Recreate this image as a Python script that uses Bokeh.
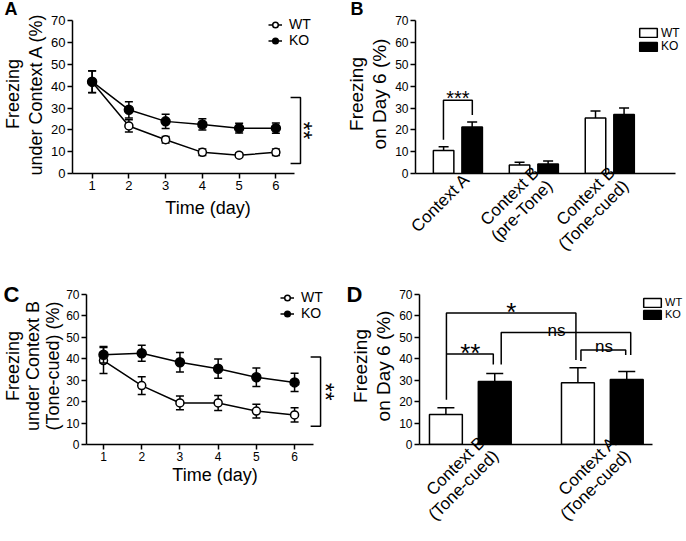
import math
from bokeh.plotting import figure
from bokeh.models import Range1d, Legend, LegendItem, FixedTicker
from bokeh.layouts import row, column
from bokeh.embed import file_html
from bokeh.resources import INLINE
from bokeh.core.properties import value

FONT = "Liberation Sans"

# ---------------- data ----------------
days = [1, 2, 3, 4, 5, 6]
y_ticks = [0, 10, 20, 30, 40, 50, 60, 70]

# Panel A: freezing under Context A
a_wt = [42.0, 21.8, 15.5, 9.7, 8.4, 9.7]
a_wt_err = [5.0, 2.8, 1.5, 1.5, 1.0, 1.5]
a_ko = [42.1, 29.2, 23.9, 22.5, 20.8, 20.8]
a_ko_err = [5.0, 3.7, 3.3, 2.6, 2.2, 2.3]

# Panel C: freezing under Context B (tone-cued)
c_wt = [39.2, 27.5, 19.4, 19.4, 15.6, 13.8]
c_wt_err = [6.1, 4.1, 3.2, 3.5, 3.2, 3.3]
c_ko = [41.9, 42.6, 38.4, 35.4, 31.4, 29.0]
c_ko_err = [3.8, 3.7, 4.6, 4.5, 4.3, 4.3]

# Panel B: freezing on day 6
b_categories = ["Context A", "Context B\n(pre-Tone)", "Context B\n(Tone-cued)"]
b_wt = [10.5, 3.9, 25.4]
b_wt_err = [1.8, 1.3, 3.3]
b_ko = [21.3, 4.3, 27.0]
b_ko_err = [2.3, 1.4, 3.0]

# Panel D: freezing on day 6
d_categories = ["Context B\n(Tone-cued)", "Context A\n(Tone-cued)"]
d_wt = [14.0, 28.8]
d_wt_err = [3.2, 7.0]
d_ko = [29.4, 30.4]
d_ko_err = [3.8, 3.7]

# significance annotations
a_sig = dict(x=6.67, tick=0.27, y0=4.6, y1=34.8, label="**", tx=6.73)
c_sig = dict(x=6.68, tick=0.26, y0=8.5, y1=40.8, label="**", tx=6.79)
# (x0, x1, top, foot0, foot1, label, text_x, text_y, font)
b_sig = [(-0.19, 0.19, 33.6, 15.5, 26.8, "***", 0.0, 34.4, "20px")]
d_sig = [(-0.181, 0.80, 61.4, 20.9, 39.5, "*", 0.31, 61.9, "26px"),
         (-0.181, 0.174, 42.3, 42.3, 37.3, "**", 0.0, 42.9, "26px"),
         (0.234, 1.215, 52.3, 37.3, 41.8, "ns", 0.653, 53.3, "17px"),
         (0.838, 1.177, 44.1, 39.0, 41.8, "ns", 1.012, 45.9, "17px")]

LW = 1.5


def make_fig(w, h, bl, bt, bb, xr, yr, letter, letter_size, letter_off, standoff):
    p = figure(width=w, height=h, x_range=Range1d(*xr), y_range=Range1d(*yr),
               output_backend="svg", toolbar_location=None, title=letter,
               min_border_left=bl, min_border_right=0,
               min_border_top=bt, min_border_bottom=bb)
    p.outline_line_color = None
    p.grid.visible = False
    p.background_fill_color = "white"
    p.border_fill_color = "white"
    p.title.text_font = FONT
    p.title.text_font_size = letter_size
    p.title.text_font_style = "bold"
    p.title.text_color = "black"
    p.title.align = "left"
    p.title.offset = letter_off
    p.title.standoff = standoff
    return p


def style_axes(p, tick_font, xbounds, ylabel, ylabel_size, ylabel_lh, lab_standoff=2):
    for ax in (p.xaxis[0], p.yaxis[0]):
        ax.axis_line_width = LW
        ax.axis_line_color = "black"
        ax.major_tick_line_width = LW
        ax.major_tick_line_color = "black"
        ax.major_tick_in = 0
        ax.major_tick_out = 5
        ax.minor_tick_line_color = None
        ax.major_label_text_font = FONT
        ax.major_label_text_font_size = tick_font
        ax.major_label_text_color = "black"
        ax.major_label_standoff = 2
    ya = p.yaxis[0]
    ya.ticker = FixedTicker(ticks=y_ticks)
    ya.bounds = (0, 70)
    ya.axis_label = ylabel
    ya.axis_label_text_font = FONT
    ya.axis_label_text_font_size = ylabel_size
    ya.axis_label_text_font_style = "normal"
    ya.axis_label_text_color = "black"
    ya.axis_label_text_line_height = ylabel_lh
    ya.axis_label_standoff = lab_standoff
    p.xaxis[0].bounds = xbounds


def time_axis(p, standoff):
    xa = p.xaxis[0]
    xa.ticker = FixedTicker(ticks=days)
    xa.axis_label = "Time (day)"
    xa.axis_label_text_font = FONT
    xa.axis_label_text_font_size = "18px"
    xa.axis_label_text_font_style = "normal"
    xa.axis_label_text_color = "black"
    xa.axis_label_standoff = standoff


def category_axis(p, cats, size, shift, standoff):
    xa = p.xaxis[0]
    ticks = [i + shift for i in range(len(cats))]
    xa.ticker = FixedTicker(ticks=ticks)
    xa.major_label_overrides = {t: c for t, c in zip(ticks, cats)}
    xa.major_label_orientation = math.pi / 4
    xa.major_tick_out = 0
    xa.major_label_text_font_size = size
    xa.major_label_text_line_height = 1.0
    xa.major_label_standoff = standoff


def err_bars(p, x, y, e, cap, both=True):
    hi = [a + b for a, b in zip(y, e)]
    lo = [a - b for a, b in zip(y, e)] if both else list(y)
    p.segment(x0=x, y0=lo, x1=x, y1=hi, line_color="black", line_width=LW)
    p.scatter(x, hi, marker="dash", size=cap, line_color="black", line_width=LW)
    if both:
        p.scatter(x, lo, marker="dash", size=cap, line_color="black", line_width=LW)


def line_panel(p, wt, wte, ko, koe, cap):
    err_bars(p, days, wt, wte, cap)
    l1 = p.line(days, wt, line_color="black", line_width=LW)
    s1 = p.scatter(days, wt, marker="circle", size=8, fill_color="white",
                   line_color="black", line_width=LW)
    err_bars(p, days, ko, koe, cap)
    l2 = p.line(days, ko, line_color="black", line_width=LW)
    s2 = p.scatter(days, ko, marker="circle", size=9, fill_color="black",
                   line_color="black", line_width=LW)
    return (l1, s1), (l2, s2)


def side_bracket(p, sig, font):
    x, t = sig["x"], sig["tick"]
    p.line([x - t, x, x, x - t], [sig["y1"], sig["y1"], sig["y0"], sig["y0"]],
           line_color="black", line_width=LW)
    p.text(x=[sig["tx"]], y=[(sig["y0"] + sig["y1"]) / 2], text=[sig["label"]],
           angle=-math.pi / 2, text_font=value(FONT), text_font_size=font,
           text_align="center", text_baseline="alphabetic", text_color="black")


def line_legend(p, wt_r, ko_r, loc, size):
    leg = Legend(items=[LegendItem(label="WT", renderers=list(wt_r)),
                        LegendItem(label="KO", renderers=list(ko_r))],
                 location=loc, orientation="vertical", glyph_width=14,
                 glyph_height=15, label_height=15, label_standoff=7, spacing=0,
                 padding=0, margin=0, border_line_color=None,
                 background_fill_alpha=0, label_text_font=FONT,
                 label_text_font_size=size, label_text_color="black")
    p.add_layout(leg)


def bar_panel(p, n, wt, wte, ko, koe, width, off, cap):
    xw = [i - off for i in range(n)]
    xk = [i + off for i in range(n)]
    r1 = p.vbar(x=xw, top=wt, width=width, bottom=0, fill_color="white",
                line_color="black", line_width=LW)
    r2 = p.vbar(x=xk, top=ko, width=width, bottom=0, fill_color="black",
                line_color="black", line_width=LW)
    err_bars(p, xw, wt, wte, cap, both=False)
    err_bars(p, xk, ko, koe, cap, both=False)
    return r1, r2


def bar_legend(p, r, label, loc, size):
    leg = Legend(items=[LegendItem(label=label, renderers=[r])],
                 location=loc, orientation="vertical", glyph_width=22,
                 glyph_height=11, label_height=11, label_standoff=2,
                 spacing=0, padding=0, margin=0, border_line_color=None,
                 background_fill_alpha=0, label_text_font=FONT,
                 label_text_font_size=size, label_text_color="black")
    p.add_layout(leg)


def bracket(p, x0, x1, top, f0, f1):
    p.line([x0, x0, x1, x1], [f0, top, top, f1], line_color="black", line_width=LW)


def sig_text(p, x, y, lab, fs):
    p.text(x=[x], y=[y], text=[lab], text_font=value(FONT), text_font_size=fs,
           text_align="center", text_baseline="alphabetic", text_color="black")


# ---------------- Panel A ----------------
pa = make_fig(343, 270, 71, 4, 97, (0.466, 7.84), (0, 72.9), "A", "18px", -68, -8)
style_axes(pa, "13px", (0.466, 6.5), "Freezing\nunder Context A (%)", "18px", 1.15)
time_axis(pa, 5)
wa, ka = line_panel(pa, a_wt, a_wt_err, a_ko, a_ko_err, 8)
side_bracket(pa, a_sig, "23px")
line_legend(pa, wa, ka, (196, 125), "14px")

# ---------------- Panel B ----------------
pb = make_fig(343, 270, 68, 4, 97, (-0.558, 3.01), (0, 72.9), "B", "18px", -65, -8)
style_axes(pb, "12px", (-0.558, 2.87), "Freezing\non Day 6 (%)", "19px", 1.1)
category_axis(pb, b_categories, "17px", 0.12, 3)
rb1, rb2 = bar_panel(pb, 3, b_wt, b_wt_err, b_ko, b_ko_err, 0.27, 0.188, 10)
for x0, x1, top, f0, f1, lab, tx, ty, fs in b_sig:
    bracket(pb, x0, x1, top, f0, f1)
    sig_text(pb, tx, ty, lab, fs)
bar_legend(pb, rb1, "WT", (222, 133.5), "12px")
bar_legend(pb, rb2, "KO", (222, 120), "12px")

# ---------------- Panel C ----------------
pc = make_fig(343, 270, 86, 17, 91, (0.555, 7.28), (0, 73.3), "C", "22px", -83, -38)
style_axes(pc, "12px", (0.555, 6.5), "Freezing\nunder Context B\n(Tone-cued) (%)", "18px", 1.0, 0)
time_axis(pc, 1)
wc, kc = line_panel(pc, c_wt, c_wt_err, c_ko, c_ko_err, 8)
side_bracket(pc, c_sig, "23px")
line_legend(pc, wc, kc, (194, 123), "14px")

# ---------------- Panel D ----------------
pd_ = make_fig(342, 270, 76, 17, 91, (-0.385, 1.63), (0, 73.3), "D", "22px", -73, -38)
style_axes(pd_, "12px", (-0.385, 1.38), "Freezing\non Day 6 (%)", "19px", 1.1)
category_axis(pd_, d_categories, "17px", 0.14, 2)
rd1, rd2 = bar_panel(pd_, 2, d_wt, d_wt_err, d_ko, d_ko_err, 0.249, 0.185, 17)
for x0, x1, top, f0, f1, lab, tx, ty, fs in d_sig:
    bracket(pd_, x0, x1, top, f0, f1)
    sig_text(pd_, tx, ty, lab, fs)
bar_legend(pd_, rd1, "WT", (222, 136), "11px")
bar_legend(pd_, rd2, "KO", (222, 124), "11px")

layout = column(row(pa, pb), row(pc, pd_))
open("out.html", "w").write(file_html(layout, INLINE))
